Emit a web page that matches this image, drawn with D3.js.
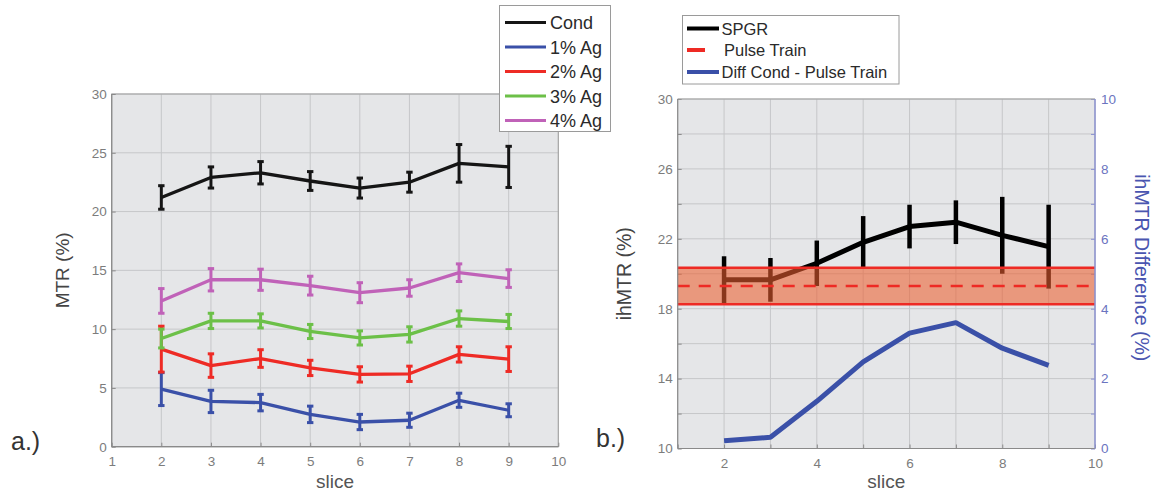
<!DOCTYPE html>
<html>
<head>
<meta charset="utf-8">
<script src="https://cdn.jsdelivr.net/npm/d3@7"></script>
<style>
  body { margin: 0; background: #fff; }
  svg { display: block; }
  text { font-family: "Liberation Sans", Arial, Helvetica, sans-serif; }
</style>
</head>
<body>
<svg id="fig" width="1156" height="493"></svg>
<script>
// ---- data: panel a (MTR per slice, mean and error) ----
const slices = [2, 3, 4, 5, 6, 7, 8, 9];
const seriesNames = ["Cond", "1% Ag", "2% Ag", "3% Ag", "4% Ag"];
const seriesColors = ["#151515", "#3a50a8", "#ee2b25", "#6cc048", "#c062b8"];
const condMTR = [21.2, 22.9, 23.3, 22.6, 22.0, 22.5, 24.1, 23.8];
const condErr = [1.0, 0.9, 0.95, 0.8, 0.85, 0.85, 1.6, 1.75];
const ag1MTR = [4.9, 3.85, 3.75, 2.75, 2.1, 2.25, 3.95, 3.1];
const ag1Err = [1.4, 0.95, 0.7, 0.7, 0.65, 0.6, 0.6, 0.55];
const ag2MTR = [8.3, 6.9, 7.5, 6.7, 6.15, 6.2, 7.85, 7.45];
const ag2Err = [1.95, 1.0, 0.75, 0.65, 0.65, 0.65, 0.65, 1.05];
const ag3MTR = [9.2, 10.7, 10.7, 9.8, 9.25, 9.55, 10.9, 10.65];
const ag3Err = [0.8, 0.65, 0.6, 0.6, 0.6, 0.65, 0.65, 0.6];
const ag4MTR = [12.4, 14.2, 14.2, 13.7, 13.1, 13.5, 14.8, 14.3];
const ag4Err = [1.05, 0.95, 0.9, 0.8, 0.85, 0.7, 0.75, 0.75];
const mtrTicks = [0, 5, 10, 15, 20, 25, 30];
const sliceTicksA = [1, 2, 3, 4, 5, 6, 7, 8, 9, 10];

// ---- data: panel b (ihMTR) ----
const spgrIhMTR = [19.65, 19.65, 20.6, 21.8, 22.7, 22.95, 22.2, 21.55];
const spgrErr = [1.35, 1.25, 1.3, 1.5, 1.25, 1.25, 2.2, 2.4];
const pulseTrainMean = 19.3;
const pulseTrainSD = 1.05;
const diffCondPulse = [0.22, 0.32, 1.35, 2.48, 3.3, 3.6, 2.87, 2.38];
const legendB = ["SPGR", "Pulse Train", "Diff Cond - Pulse Train"];
const ihTicks = [10, 12, 14, 16, 18, 20, 22, 24, 26, 28, 30];
const diffTicks = [0, 1, 2, 3, 4, 5, 6, 7, 8, 9, 10];

const seriesMeans = [condMTR, ag1MTR, ag2MTR, ag3MTR, ag4MTR];
const seriesErrs = [condErr, ag1Err, ag2Err, ag3Err, ag4Err];
const seriesA = seriesNames.map((name, i) => ({
  name, color: seriesColors[i],
  pts: slices.map((s, j) => ({ x: s, y: seriesMeans[i][j], e: seriesErrs[i][j] }))
}));

const svg = d3.select("#fig");
const BG = "#e5e6e8", GRID = "#c6c7c9", TICKTXT = "#7c7c7c";

function styleAxis(g, color) {
  g.select(".domain").remove();
  g.selectAll(".tick line").attr("stroke", "#8a8a8a").attr("stroke-width", 1);
  g.selectAll(".tick text").attr("fill", color || TICKTXT).attr("font-size", 13.5);
}

// ================= panel a =================
const xA = d3.scaleLinear().domain([1, 10]).range([111.7, 558.3]);
const yA = d3.scaleLinear().domain([0, 30]).range([446.7, 94]);
const gA = svg.append("g");

gA.append("rect").attr("x", xA(1)).attr("y", yA(30))
  .attr("width", xA(10) - xA(1)).attr("height", yA(0) - yA(30)).attr("fill", BG);

gA.append("g").selectAll("line").data(sliceTicksA).join("line")
  .attr("x1", d => xA(d)).attr("x2", d => xA(d)).attr("y1", yA(0)).attr("y2", yA(30))
  .attr("stroke", GRID).attr("stroke-width", 1);
gA.append("g").selectAll("line").data(mtrTicks).join("line")
  .attr("y1", d => yA(d)).attr("y2", d => yA(d)).attr("x1", xA(1)).attr("x2", xA(10))
  .attr("stroke", GRID).attr("stroke-width", 1);

gA.append("rect").attr("x", xA(1)).attr("y", yA(30))
  .attr("width", xA(10) - xA(1)).attr("height", yA(0) - yA(30))
  .attr("fill", "none").attr("stroke", "#a0a0a0").attr("stroke-width", 1);
gA.append("line").attr("x1", xA(1)).attr("x2", xA(1)).attr("y1", yA(0)).attr("y2", yA(30))
  .attr("stroke", "#8a8a8a").attr("stroke-width", 1.2);
gA.append("line").attr("x1", xA(1)).attr("x2", xA(10)).attr("y1", yA(0)).attr("y2", yA(0))
  .attr("stroke", "#8a8a8a").attr("stroke-width", 1.2);

gA.append("g").attr("transform", `translate(${xA(1)},0)`)
  .call(d3.axisLeft(yA).tickValues(mtrTicks).tickSize(-4).tickPadding(5))
  .call(styleAxis);
gA.append("g").attr("transform", `translate(0,${yA(0)})`)
  .call(d3.axisBottom(xA).tickValues(sliceTicksA).tickFormat(d3.format("d")).tickSize(-4).tickPadding(10))
  .call(styleAxis);

const lineA = d3.line().x(d => xA(d.x)).y(d => yA(d.y));
seriesA.forEach(s => {
  const g = gA.append("g");
  g.append("path").datum(s.pts).attr("d", lineA).attr("fill", "none")
    .attr("stroke", s.color).attr("stroke-width", 3.3).attr("stroke-linejoin", "round");
  const eb = g.selectAll(".eb").data(s.pts).join("g").attr("stroke", s.color).attr("stroke-width", 3);
  eb.append("line").attr("x1", d => xA(d.x)).attr("x2", d => xA(d.x))
    .attr("y1", d => yA(d.y - d.e)).attr("y2", d => yA(d.y + d.e));
  eb.append("line").attr("x1", d => xA(d.x) - 3.2).attr("x2", d => xA(d.x) + 3.2)
    .attr("y1", d => yA(d.y - d.e)).attr("y2", d => yA(d.y - d.e));
  eb.append("line").attr("x1", d => xA(d.x) - 3.2).attr("x2", d => xA(d.x) + 3.2)
    .attr("y1", d => yA(d.y + d.e)).attr("y2", d => yA(d.y + d.e));
});

gA.append("text").attr("transform", `translate(68.5,${(yA(0) + yA(30)) / 2}) rotate(-90)`)
  .attr("text-anchor", "middle").attr("font-size", 19).attr("fill", "#444").text("MTR (%)");
gA.append("text").attr("x", (xA(1) + xA(10)) / 2).attr("y", 488)
  .attr("text-anchor", "middle").attr("font-size", 19).attr("fill", "#555").text("slice");
gA.append("text").attr("x", 11).attr("y", 450)
  .attr("font-size", 25).attr("fill", "#333").text("a.)");

// legend a
const legA = gA.append("g");
legA.append("rect").attr("x", 499.5).attr("y", 5.5).attr("width", 111).attr("height", 126)
  .attr("fill", "#fff").attr("stroke", "#9a9a9a").attr("stroke-width", 1);
seriesA.forEach((s, i) => {
  const yy = 22.5 + i * 24.5;
  legA.append("line").attr("x1", 505).attr("x2", 546).attr("y1", yy).attr("y2", yy)
    .attr("stroke", s.color).attr("stroke-width", 3);
  legA.append("text").attr("x", 550).attr("y", yy + 6.5).attr("font-size", 18)
    .attr("fill", "#2a2a2a").text(s.name);
});

// ================= panel b =================
const xB = d3.scaleLinear().domain([1, 10]).range([677.7, 1095]);
const yB = d3.scaleLinear().domain([10, 30]).range([448.5, 99]);
const yB2 = d3.scaleLinear().domain([0, 10]).range([448.5, 99]);
const gB = svg.append("g");

gB.append("rect").attr("x", xB(1)).attr("y", yB(30))
  .attr("width", xB(10) - xB(1)).attr("height", yB(10) - yB(30)).attr("fill", BG);
gB.append("g").selectAll("line").data(sliceTicksA).join("line")
  .attr("x1", d => xB(d)).attr("x2", d => xB(d)).attr("y1", yB(10)).attr("y2", yB(30))
  .attr("stroke", GRID).attr("stroke-width", 1);
gB.append("g").selectAll("line").data(ihTicks).join("line")
  .attr("y1", d => yB(d)).attr("y2", d => yB(d)).attr("x1", xB(1)).attr("x2", xB(10))
  .attr("stroke", GRID).attr("stroke-width", 1);

gB.append("g").attr("transform", `translate(${xB(1)},0)`)
  .call(d3.axisLeft(yB).tickValues(ihTicks).tickFormat(d => (d - 10) % 4 === 0 ? d : "")
    .tickSize(-4).tickPadding(5))
  .call(styleAxis);
gB.append("g").attr("transform", `translate(0,${yB(10)})`)
  .call(d3.axisBottom(xB).tickValues(sliceTicksA).tickFormat(d => d % 2 === 0 ? d : "")
    .tickSize(-4).tickPadding(10))
  .call(styleAxis);
gB.append("g").attr("transform", `translate(${xB(10)},0)`)
  .call(d3.axisRight(yB2).tickValues(diffTicks).tickFormat(d => d % 2 === 0 ? d : "")
    .tickSize(-4).tickPadding(6))
  .call(g => {
    styleAxis(g, "#6b74c0");
    g.selectAll(".tick line").attr("stroke", "#8b92d0");
  });

// SPGR with error bars
const lineB = d3.line().x(d => xB(d.x)).y(d => yB(d.y));
const spgrPts = slices.map((s, j) => ({ x: s, y: spgrIhMTR[j], e: spgrErr[j] }));
gB.append("path").datum(spgrPts).attr("d", lineB).attr("fill", "none")
  .attr("stroke", "#000").attr("stroke-width", 5).attr("stroke-linejoin", "round");
gB.append("g").selectAll("line").data(spgrPts).join("line")
  .attr("x1", d => xB(d.x)).attr("x2", d => xB(d.x))
  .attr("y1", d => yB(d.y - d.e)).attr("y2", d => yB(d.y + d.e))
  .attr("stroke", "#000").attr("stroke-width", 4.5);

// Pulse Train mean and SD band
gB.append("rect").attr("x", xB(1)).attr("width", xB(10) - xB(1))
  .attr("y", yB(pulseTrainMean + pulseTrainSD))
  .attr("height", yB(pulseTrainMean - pulseTrainSD) - yB(pulseTrainMean + pulseTrainSD))
  .attr("fill", "#ec5f30").attr("fill-opacity", 0.58);
[pulseTrainMean + pulseTrainSD, pulseTrainMean - pulseTrainSD].forEach(v => {
  gB.append("line").attr("x1", xB(1)).attr("x2", xB(10)).attr("y1", yB(v)).attr("y2", yB(v))
    .attr("stroke", "#ee2a24").attr("stroke-width", 2.5);
});
gB.append("line").attr("x1", xB(1)).attr("x2", xB(10))
  .attr("y1", yB(pulseTrainMean)).attr("y2", yB(pulseTrainMean))
  .attr("stroke", "#ee2a24").attr("stroke-width", 2.5).attr("stroke-dasharray", "12,9");

// difference on right axis
const diffPts = slices.map((s, j) => ({ x: s, y: diffCondPulse[j] }));
gB.append("path").datum(diffPts)
  .attr("d", d3.line().x(d => xB(d.x)).y(d => yB2(d.y)))
  .attr("fill", "none").attr("stroke", "#3a50a8").attr("stroke-width", 5)
  .attr("stroke-linejoin", "round");

// frame
gB.append("line").attr("x1", xB(1)).attr("x2", xB(10)).attr("y1", yB(30)).attr("y2", yB(30))
  .attr("stroke", "#a0a0a0").attr("stroke-width", 1);
gB.append("line").attr("x1", xB(1)).attr("x2", xB(1)).attr("y1", yB(10)).attr("y2", yB(30))
  .attr("stroke", "#8a8a8a").attr("stroke-width", 1.2);
gB.append("line").attr("x1", xB(1)).attr("x2", xB(10)).attr("y1", yB(10)).attr("y2", yB(10))
  .attr("stroke", "#8a8a8a").attr("stroke-width", 1.2);
gB.append("line").attr("x1", xB(10)).attr("x2", xB(10)).attr("y1", yB(10)).attr("y2", yB(30))
  .attr("stroke", "#8b92d0").attr("stroke-width", 1.5);

gB.append("text").attr("transform", `translate(631,${(yB(10) + yB(30)) / 2}) rotate(-90)`)
  .attr("text-anchor", "middle").attr("font-size", 19.5).attr("fill", "#444").text("ihMTR (%)");
gB.append("text").attr("transform", `translate(1135,${(yB(10) + yB(30)) / 2 - 6}) rotate(90)`)
  .attr("text-anchor", "middle").attr("font-size", 19.5).attr("fill", "#4a55b0").text("ihMTR Difference (%)");
gB.append("text").attr("x", (xB(1) + xB(10)) / 2).attr("y", 488)
  .attr("text-anchor", "middle").attr("font-size", 19).attr("fill", "#555").text("slice");
gB.append("text").attr("x", 596).attr("y", 447)
  .attr("font-size", 25).attr("fill", "#333").text("b.)");

// legend b
const legB = gB.append("g");
legB.append("rect").attr("x", 682.5).attr("y", 15.5).attr("width", 216.5).attr("height", 68.5)
  .attr("fill", "#fff").attr("stroke", "#9a9a9a").attr("stroke-width", 1);
const legBy = [28.5, 50, 72];
legB.append("line").attr("x1", 687).attr("x2", 719).attr("y1", legBy[0]).attr("y2", legBy[0])
  .attr("stroke", "#000").attr("stroke-width", 4);
legB.append("line").attr("x1", 687).attr("x2", 705).attr("y1", legBy[1]).attr("y2", legBy[1])
  .attr("stroke", "#ee2a24").attr("stroke-width", 4);
legB.append("line").attr("x1", 687).attr("x2", 719).attr("y1", legBy[2]).attr("y2", legBy[2])
  .attr("stroke", "#3a50a8").attr("stroke-width", 4);
legendB.forEach((t, i) => {
  legB.append("text").attr("x", i === 1 ? 724 : 721.5).attr("y", legBy[i] + 6)
    .attr("font-size", 16.5).attr("fill", "#2a2a2a").text(t);
});
</script>
</body>
</html>
